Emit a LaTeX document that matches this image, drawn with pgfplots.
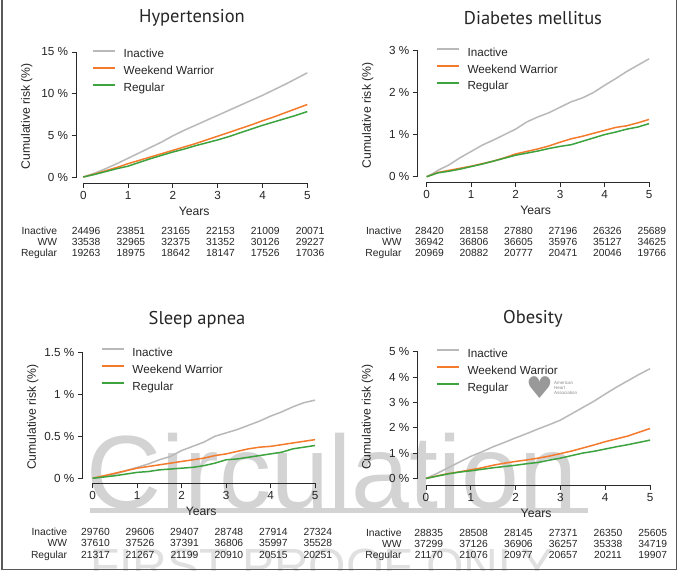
\documentclass[border=0pt]{standalone}
\usepackage{pgfplots}
\pgfplotsset{compat=1.18}
\usepackage{fontspec}
\setmainfont{Liberation Sans}
\newfontfamily\titlefam{PT Sans}
\newfontfamily\symfam{DejaVu Sans}
\definecolor{cinact}{HTML}{B9B9B9}
\definecolor{cww}{HTML}{F47A2C}
\definecolor{creg}{HTML}{3DA33F}
\definecolor{wm}{HTML}{D3D3D3}
\definecolor{axc}{HTML}{2A2A2A}
\newcommand\tickfont{\fontsize{11.7bp}{13bp}\selectfont}
\newcommand\labfont{\fontsize{12.2bp}{14bp}\selectfont}
\newcommand\tabfont{\fontsize{10.3bp}{12bp}\selectfont}
\newcommand\legfont{\fontsize{11.7bp}{13bp}\selectfont}
\newcommand\ttlfont{\titlefam\fontsize{18.5bp}{20bp}\selectfont}
\newcommand{\riskrow}[6]{%
  \node[anchor=base east, font=\tabfont, inner sep=0pt, text=black!85] at (#4bp,#3bp) {#5};
  \foreach \v [count=\i from 0] in {#6} {%
    \node[anchor=base, font=\tabfont, inner sep=0pt, text=black!85] at ({#1bp+2.8bp+\i*#2bp},#3bp) {\v};}%
}
\tikzset{axl/.style={draw=axc, line width=0.9bp}}
\pgfplotsset{
  km/.style={
    scale only axis, anchor=south west, clip=false,
    axis x line*=bottom, axis y line*=left,
    x axis line style={draw=none}, y axis line style={draw=none},
    tick align=outside, major tick length=5bp,
    every tick/.style={draw=axc, line width=0.9bp},
    xtick={0,1,2,3,4,5}, xmax=5.1,
    ticklabel style={font=\tickfont, text=black!85},
    /pgf/number format/assume math mode=true,
    xlabel={Years}, ylabel={Cumulative risk (\%)},
    xlabel style={font=\labfont, text=black!85, at={(axis description cs:0.5,0)}, anchor=center, yshift=-28.5bp},
    ylabel style={font=\labfont, text=black!85, at={(axis description cs:-0.212,0.5)}, anchor=center},
    legend style={draw=none, fill=none, inner sep=0pt, outer sep=0pt,
      row sep=5bp, column sep=7bp, font=\legfont, anchor=north west,
      nodes={inner sep=1bp, text=black!85}},
    legend cell align=left,
    legend image code/.code={\draw[#1, line width=1.8bp] (0bp,3.5bp) -- (22bp,3.5bp);},
    every axis plot/.append style={line width=1.5bp, no marks},
  },
}
\begin{document}
\begin{tikzpicture}
\useasboundingbox (0,0) rectangle (680bp,571bp);
\fill[white] (0,0) rectangle (680bp,571bp);
% watermark
\begin{scope}
\clip (0,0) rectangle (680bp,571bp);
\node[anchor=base west, inner sep=0pt, text=wm, font=\fontsize{104bp}{104bp}\selectfont] at (86bp,62bp) {Circulation};
\fill[wm] (90bp,58bp) rectangle (588bp,63bp);
\node[anchor=base west, inner sep=0pt, text=wm!70, font=\fontsize{48bp}{48bp}\selectfont] at (90bp,-11bp) {FIRST PROOF ONLY};
\node[text=black!40, font=\symfam\fontsize{30bp}{30bp}\selectfont, inner sep=0pt] at (539.5bp,183bp) {♥};
\node[anchor=west, text=black!45, font=\fontsize{4.5bp}{5bp}\selectfont, inner sep=0pt, align=left] at (554bp,183bp) {American\\Heart\\Association};
\end{scope}
% frame
\draw[black!65, line width=1.3bp] (2bp,571bp) -- (2bp,1.8bp) -- (676.5bp,1.8bp) -- (676.5bp,571bp);

% titles
\node[font=\ttlfont, text=black!85] at (192bp,553bp) {Hypertension};
\node[font=\ttlfont, text=black!85] at (533bp,553bp) {Diabetes mellitus};
\node[font=\ttlfont, text=black!85] at (197bp,251bp) {Sleep apnea};
\node[font=\ttlfont, text=black!85] at (533bp,252bp) {Obesity};

% ---------- Hypertension
\begin{axis}[km, at={(76.6bp,388bp)}, width=235.2bp, height=133.5bp,
  xmin=-0.15, ymin=-0.72, ymax=15.3,
  ytick={0,5,10,15}, yticklabels={0 \%, 5 \%, 10 \%, 15 \%},
  legend style={at={(0.065,1.008)}}]
\addplot[cinact] coordinates {(0,0) (0.25,0.45) (0.5,1.0) (0.75,1.6) (1,2.25) (1.25,2.9) (1.5,3.55) (1.75,4.2) (2,4.95) (2.25,5.6) (2.5,6.2) (2.75,6.8) (3,7.4) (3.25,8.0) (3.5,8.6) (3.75,9.2) (4,9.8) (4.25,10.45) (4.5,11.1) (4.75,11.8) (5,12.5)};
\addlegendentry{Inactive}
\addplot[cww] coordinates {(0,0) (0.25,0.35) (0.5,0.75) (0.75,1.15) (1,1.6) (1.25,2.0) (1.5,2.4) (1.75,2.8) (2,3.2) (2.25,3.6) (2.5,4.0) (2.75,4.45) (3,4.9) (3.25,5.35) (3.5,5.8) (3.75,6.25) (4,6.75) (4.25,7.2) (4.5,7.7) (4.75,8.2) (5,8.7)};
\addlegendentry{Weekend Warrior}
\addplot[creg] coordinates {(0,0) (0.25,0.3) (0.5,0.65) (0.75,1.0) (1,1.3) (1.25,1.75) (1.5,2.2) (1.75,2.6) (2,3.0) (2.25,3.35) (2.5,3.75) (2.75,4.1) (3,4.45) (3.25,4.85) (3.5,5.3) (3.75,5.75) (4,6.2) (4.25,6.6) (4.5,7.0) (4.75,7.4) (5,7.85)};
\addlegendentry{Regular}
\draw[axl] (axis cs:0,-0.72) -- (axis cs:5,-0.72);
\draw[axl] (axis cs:-0.15,0) -- (axis cs:-0.15,15);
\end{axis}

% ---------- Diabetes
\begin{axis}[km, at={(417.8bp,388.7bp)}, width=235.7bp, height=134bp,
  xmin=-0.2, ymin=-0.133, ymax=3.05,
  ytick={0,1,2,3}, yticklabels={0 \%, 1 \%, 2 \%, 3 \%},
  legend style={at={(0.076,1.013)}}]
\addplot[cinact] coordinates {(0,0) (0.1,0.05) (0.25,0.15) (0.5,0.28) (0.75,0.45) (1,0.6) (1.25,0.75) (1.5,0.87) (1.75,1.0) (2,1.13) (2.25,1.3) (2.5,1.42) (2.75,1.52) (3,1.65) (3.25,1.78) (3.5,1.87) (3.75,2.0) (4,2.17) (4.25,2.33) (4.5,2.5) (4.75,2.65) (5,2.8)};
\addlegendentry{Inactive}
\addplot[cww] coordinates {(0,0) (0.25,0.1) (0.5,0.15) (0.75,0.2) (1,0.25) (1.25,0.31) (1.5,0.37) (1.75,0.45) (2,0.54) (2.25,0.6) (2.5,0.66) (2.75,0.73) (3,0.82) (3.25,0.9) (3.5,0.96) (3.75,1.03) (4,1.1) (4.25,1.17) (4.5,1.21) (4.75,1.28) (5,1.36)};
\addlegendentry{Weekend Warrior}
\addplot[creg] coordinates {(0,0) (0.25,0.09) (0.5,0.13) (0.75,0.18) (1,0.24) (1.25,0.3) (1.5,0.37) (1.75,0.44) (2,0.51) (2.25,0.56) (2.5,0.61) (2.75,0.67) (3,0.72) (3.25,0.76) (3.5,0.84) (3.75,0.92) (4,1.0) (4.25,1.06) (4.5,1.13) (4.75,1.18) (5,1.26)};
\addlegendentry{Regular}
\draw[axl] (axis cs:0,-0.133) -- (axis cs:5,-0.133);
\draw[axl] (axis cs:-0.2,0) -- (axis cs:-0.2,3);
\end{axis}

% ---------- Sleep apnea
\begin{axis}[km, at={(82.9bp,87.7bp)}, width=236.6bp, height=132.7bp,
  xmin=-0.22, ymin=-0.06, ymax=1.52,
  ytick={0,0.5,1,1.5}, yticklabels={0 \%, 0.5 \%, 1 \%, 1.5 \%},
  legend style={at={(0.075,1.028)}}]
\addplot[cinact] coordinates {(0,0) (0.25,0.02) (0.5,0.05) (0.75,0.09) (1,0.13) (1.25,0.17) (1.5,0.22) (1.75,0.26) (2,0.33) (2.25,0.38) (2.5,0.43) (2.75,0.5) (3,0.54) (3.25,0.58) (3.5,0.63) (3.75,0.68) (4,0.74) (4.25,0.79) (4.5,0.85) (4.75,0.9) (5,0.93)};
\addlegendentry{Inactive}
\addplot[cww] coordinates {(0,0) (0.25,0.03) (0.5,0.06) (0.75,0.09) (1,0.12) (1.25,0.14) (1.5,0.16) (1.75,0.18) (2,0.2) (2.25,0.22) (2.5,0.24) (2.75,0.27) (3,0.29) (3.25,0.32) (3.5,0.35) (3.75,0.37) (4,0.38) (4.25,0.4) (4.5,0.42) (4.75,0.44) (5,0.46)};
\addlegendentry{Weekend Warrior}
\addplot[creg] coordinates {(0,0) (0.25,0.015) (0.5,0.03) (0.75,0.05) (1,0.07) (1.25,0.08) (1.5,0.1) (1.75,0.11) (2,0.12) (2.25,0.13) (2.5,0.15) (2.75,0.18) (3,0.22) (3.25,0.23) (3.5,0.25) (3.75,0.27) (4,0.29) (4.25,0.31) (4.5,0.35) (4.75,0.37) (5,0.39)};
\addlegendentry{Regular}
\draw[axl] (axis cs:0,-0.06) -- (axis cs:5,-0.06);
\draw[axl] (axis cs:-0.22,0) -- (axis cs:-0.22,1.5);
\end{axis}

% ---------- Obesity
\begin{axis}[km, at={(417.7bp,86bp)}, width=236.8bp, height=135.8bp,
  xmin=-0.185, ymin=-0.26, ymax=5.1,
  ytick={0,1,2,3,4,5}, yticklabels={0 \%, 1 \%, 2 \%, 3 \%, 4 \%, 5 \%},
  legend style={at={(0.076,1.011)}}]
\addplot[cinact] coordinates {(0,0) (0.25,0.2) (0.5,0.42) (0.75,0.65) (1,0.87) (1.25,1.05) (1.5,1.25) (1.75,1.42) (2,1.6) (2.25,1.77) (2.5,1.95) (2.75,2.12) (3,2.3) (3.25,2.55) (3.5,2.8) (3.75,3.05) (4,3.33) (4.25,3.6) (4.5,3.85) (4.75,4.1) (5,4.33)};
\addlegendentry{Inactive}
\addplot[cww] coordinates {(0,0) (0.25,0.1) (0.5,0.19) (0.75,0.26) (1,0.34) (1.25,0.42) (1.5,0.52) (1.75,0.6) (2,0.67) (2.25,0.73) (2.5,0.8) (2.75,0.88) (3,0.98) (3.25,1.08) (3.5,1.2) (3.75,1.32) (4,1.45) (4.25,1.56) (4.5,1.67) (4.75,1.82) (5,1.97)};
\addlegendentry{Weekend Warrior}
\addplot[creg] coordinates {(0,0) (0.25,0.09) (0.5,0.18) (0.75,0.25) (1,0.3) (1.25,0.36) (1.5,0.42) (1.75,0.47) (2,0.52) (2.25,0.58) (2.5,0.63) (2.75,0.72) (3,0.8) (3.25,0.9) (3.5,1.0) (3.75,1.07) (4,1.16) (4.25,1.25) (4.5,1.33) (4.75,1.42) (5,1.51)};
\addlegendentry{Regular}
\draw[axl] (axis cs:0,-0.26) -- (axis cs:5,-0.26);
\draw[axl] (axis cs:-0.185,0) -- (axis cs:-0.185,5);
\end{axis}

% risk tables
\riskrow{83.3}{44.8}{336.7}{57.3}{Inactive}{24496,23851,23165,22153,21009,20071}
\riskrow{83.3}{44.8}{325}{57.3}{WW}{33538,32965,32375,31352,30126,29227}
\riskrow{83.3}{44.8}{314.3}{57.3}{Regular}{19263,18975,18642,18147,17526,17036}
\riskrow{426.7}{44.47}{336.7}{401.7}{Inactive}{28420,28158,27880,27196,26326,25689}
\riskrow{426.7}{44.47}{325}{401.7}{WW}{36942,36806,36605,35976,35127,34625}
\riskrow{426.7}{44.47}{314.3}{401.7}{Regular}{20969,20882,20777,20471,20046,19766}
\riskrow{92.7}{44.47}{35.3}{67.3}{Inactive}{29760,29606,29407,28748,27914,27324}
\riskrow{92.7}{44.47}{24.3}{67.3}{WW}{37610,37526,37391,36806,35997,35528}
\riskrow{92.7}{44.47}{12.7}{67.3}{Regular}{21317,21267,21199,20910,20515,20251}
\riskrow{426}{44.8}{35}{401.7}{Inactive}{28835,28508,28145,27371,26350,25605}
\riskrow{426}{44.8}{23.7}{401.7}{WW}{37299,37126,36906,36257,35338,34719}
\riskrow{426}{44.8}{12.3}{401.7}{Regular}{21170,21076,20977,20657,20211,19907}
\end{tikzpicture}
\end{document}
